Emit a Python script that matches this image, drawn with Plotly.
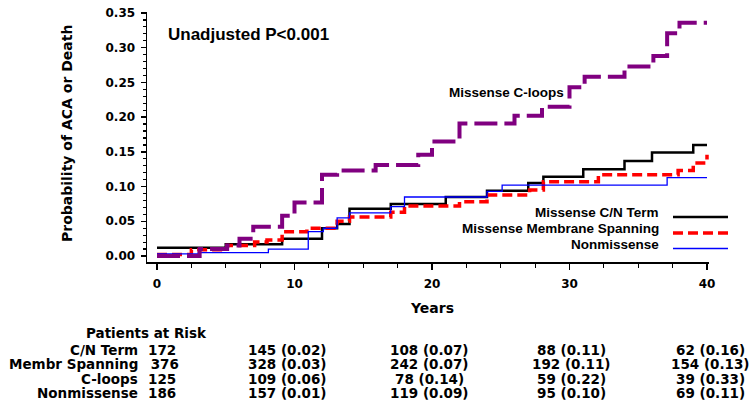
import plotly.graph_objects as go

# ---- Data (Kaplan-Meier style cumulative probability steps) ----
cn_years = [0, 5.0, 9.1, 12.0, 13.1, 14.0, 17.0, 21.0, 24.0, 27.0, 28.1, 31.0, 34.0, 36.0, 39.0, 40.0]
cn_prob = [0.012, 0.017, 0.025, 0.040, 0.046, 0.068, 0.075, 0.085, 0.094, 0.105, 0.114, 0.125, 0.137, 0.149, 0.160, 0.160]

ms_years = [0, 2.5, 5.1, 7.1, 8.0, 9.1, 10.9, 13.1, 14.0, 17.0, 18.0, 22.0, 24.0, 27.1, 28.1, 32.1, 37.9, 39.0, 40.0]
ms_prob = [0.002, 0.009, 0.015, 0.020, 0.023, 0.035, 0.040, 0.050, 0.056, 0.063, 0.072, 0.078, 0.088, 0.095, 0.107, 0.117, 0.123, 0.134, 0.146]

cl_years = [0, 3.1, 5.1, 6.0, 7.0, 9.1, 10.0, 12.0, 13.1, 15.9, 19.0, 20.0, 22.0, 26.0, 28.0, 30.0, 31.1, 34.0, 36.1, 37.1, 38.0, 40.0]
cl_prob = [0.0, 0.010, 0.015, 0.025, 0.042, 0.058, 0.077, 0.117, 0.123, 0.131, 0.146, 0.165, 0.191, 0.202, 0.215, 0.243, 0.258, 0.273, 0.288, 0.321, 0.336, 0.336]

nm_years = [0, 3.0, 8.1, 11.0, 12.1, 13.1, 14.0, 17.0, 18.0, 24.0, 25.1, 37.1, 40.0]
nm_prob = [0.003, 0.005, 0.010, 0.035, 0.040, 0.055, 0.062, 0.071, 0.085, 0.093, 0.102, 0.113, 0.113]

x_ticks = [0, 10, 20, 30, 40]
y_ticks = [0.00, 0.05, 0.10, 0.15, 0.20, 0.25, 0.30, 0.35]

risk_labels = ["C/N Term", "Membr Spanning", "C-loops", "Nonmissense"]
risk_times = [0, 10, 20, 30, 40]
risk_cn = ["172", "145 (0.02)", "108 (0.07)", "88 (0.11)", "62 (0.16)"]
risk_ms = [" 376", "328 (0.03)", "242 (0.07)", "192 (0.11)", "154 (0.13)"]
risk_cl = ["125", "109 (0.06)", "78 (0.14)", "59 (0.22)", "39 (0.33)"]
risk_nm = ["186", "157 (0.01)", "119 (0.09)", "95 (0.10)", "69 (0.11)"]

legend_names = ["Missense C/N Term", "Missense Membrane Spanning", "Nonmissense"]

# ---- Styles ----
BLACK = "#000000"
RED = "#FF0000"
PURPLE = "#800080"
BLUE = "#0000FF"
TF = "DejaVu Sans"
AF = "Liberation Sans"

W, H = 756, 411
# plot area in page pixels: left 147, right 709, top 12, bottom 262
SL, SR, ST, SB = 147, 709, 12, 262
L, T, R, B = SL, ST, W - SR, H - SB
PW, PH = SR - SL, SB - ST


def px(xs):
    return (xs - SL) / PW


def py(ys):
    return (SB - ys) / PH


fig = go.Figure()
styles = [
    (cn_years, cn_prob, dict(color=BLACK, width=2.5, dash="solid")),
    (ms_years, ms_prob, dict(color=RED, width=3.5, dash="10px,5px")),
    (nm_years, nm_prob, dict(color=BLUE, width=1.3, dash="solid")),
    (cl_years, cl_prob, dict(color=PURPLE, width=4, dash="23px,7px")),
]
for xs, ys, ln in styles:
    fig.add_trace(go.Scatter(x=xs, y=ys, mode="lines", line_shape="hv",
                             line=ln, showlegend=False, hoverinfo="skip"))

# t=0 at 157px, t=40 at 707px ; p=0 at 256px, p=0.35 at 13px
x0 = -10 / 13.75
x1 = 40 + 2 / 13.75
y0 = -6 / 694
y1 = 0.35 + 1 / 694

fig.update_xaxes(range=[x0, x1], showline=True, linecolor=BLACK, linewidth=1.5,
                 ticks="outside", ticklen=6, tickwidth=1.5, tickcolor=BLACK,
                 tickvals=x_ticks, ticktext=[str(v) for v in x_ticks],
                 tickfont=dict(family=TF, size=12, color=BLACK, weight="bold"),
                 ticklabelstandoff=4, automargin=False, ticklabeloverflow="allow",
                 minor=dict(dtick=2.5, tick0=0, ticks="outside", ticklen=4, tickwidth=1.2, tickcolor=BLACK),
                 showgrid=False, zeroline=False, fixedrange=True)
fig.update_yaxes(range=[y0, y1], showline=True, linecolor=BLACK, linewidth=1.5,
                 ticks="outside", ticklen=5, tickwidth=1.5, tickcolor=BLACK,
                 tickvals=y_ticks, ticktext=[f"{v:.2f}" for v in y_ticks],
                 tickfont=dict(family=TF, size=12, color=BLACK, weight="bold"),
                 ticklabelstandoff=3, automargin=False, ticklabeloverflow="allow",
                 minor=dict(dtick=0.01, tick0=0, ticks="outside", ticklen=3, tickwidth=1.2, tickcolor=BLACK),
                 showgrid=False, zeroline=False, fixedrange=True)

ann = []


def add_text(text, x, y, xanchor="center", size=13.5, family=TF, xref="paper", xshift=0, angle=0):
    ann.append(dict(text=text, x=x, y=y, xref=xref, yref="paper", xanchor=xanchor, yanchor="middle",
                    xshift=xshift, textangle=angle, showarrow=False,
                    font=dict(family=family, size=size, color=BLACK, weight="bold")))


add_text("Probability of ACA or Death", px(67), py(133), size=14, angle=-90)
add_text("Years", px(432), py(308), size=14)
add_text("Unadjusted P<0.001", px(166), py(35), xanchor="left", size=17, family=AF)
add_text("Missense C-loops", px(447), py(93), xanchor="left", size=13.5, family=AF)

leg_text_y = [212, 228.5, 244.5]
leg_line_y = [217, 233, 248.5]
leg_lines = [styles[0][2], styles[1][2], styles[2][2]]
for name, ty, ly, ln in zip(legend_names, leg_text_y, leg_line_y, leg_lines):
    add_text(name, px(661), py(ty), xanchor="right", size=13.5, family=AF)
    fig.add_shape(type="line", xref="paper", yref="paper", x0=px(673), x1=px(728),
                  y0=py(ly), y1=py(ly), line=ln)

add_text("Patients at Risk", px(146), py(333))
row_y = [350, 364, 378.5, 393]
rows = [risk_cn, risk_ms, risk_cl, risk_nm]
col_shift = [5, -7, -3, 2, 3]
for lab, yv, vals in zip(risk_labels, row_y, rows):
    add_text(lab, px(140), py(yv), xanchor="right")
    for t, v, s in zip(risk_times, vals, col_shift):
        add_text(v.replace(" ", "\u00a0"), t, py(yv), xref="x", xshift=s)

fig.update_layout(width=W, height=H, margin=dict(l=L, r=R, t=T, b=B, autoexpand=False),
                  paper_bgcolor="white", plot_bgcolor="white", annotations=ann,
                  showlegend=False)

# remove the default 8px page margin so the figure fills the window exactly
fig.write_html("out.html", config={"displayModeBar": False, "staticPlot": True},
               post_script="document.body.style.margin='0';document.body.style.overflow='hidden';")
